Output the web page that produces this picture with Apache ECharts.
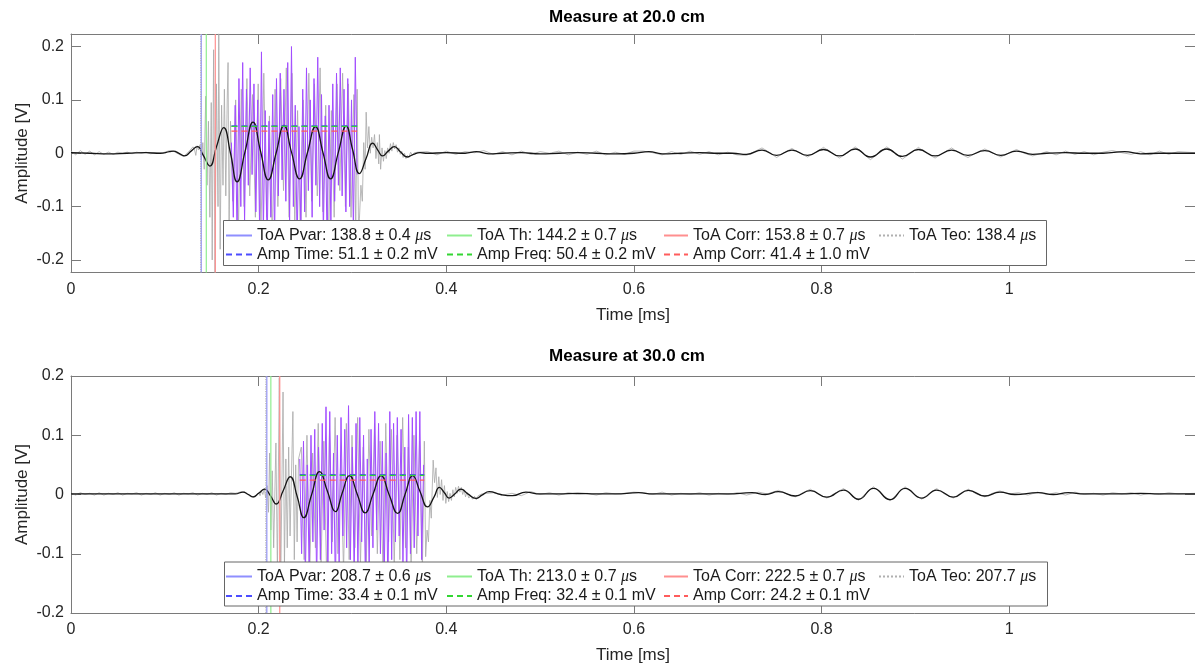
<!DOCTYPE html>
<html lang="en">
<head>
    <meta charset="UTF-8">
    <title>Measure</title>
    <script src="https://cdn.jsdelivr.net/npm/echarts/dist/echarts.min.js"></script>
    <style>
        html, body { margin: 0; padding: 0; background: #fff; }
        #main { width: 1195px; height: 666px; }
    </style>
</head>
<body>
<div id="main"></div>
<script>
// ---------- data ----------
var xTicks = [0, 0.2, 0.4, 0.6, 0.8, 1];
var yTicks = [-0.2, -0.1, 0, 0.1, 0.2];
var xMax = 1.198;
var yLim20 = 0.2235;
var yLim30 = 0.2;

// 20 cm : filtered envelope (black)
var black20T = [0, 0.02, 0.04, 0.06, 0.08, 0.095, 0.105, 0.109, 0.116, 0.121, 0.128, 0.1348, 0.141, 0.148, 0.155, 0.1628,
    0.170, 0.177, 0.1855, 0.194, 0.202, 0.2103, 0.2187, 0.227, 0.235, 0.2436, 0.252, 0.2606, 0.2686, 0.2766, 0.285, 0.2933,
    0.300, 0.3074, 0.3145, 0.3216, 0.327, 0.332, 0.338, 0.3447, 0.351, 0.3585, 0.365, 0.372, 0.38, 0.40, 0.42, 0.432, 0.445,
    0.46, 0.48, 0.50, 0.52, 0.54, 0.56, 0.58, 0.60, 0.616, 0.63, 0.65, 0.67, 0.69, 0.705, 0.72, 0.7365, 0.752, 0.7684, 0.785,
    0.802, 0.819, 0.8358, 0.852, 0.8695, 0.886, 0.9032, 0.921, 0.9386, 0.956, 0.974, 0.991, 1.0078, 1.025, 1.04, 1.06, 1.08,
    1.10, 1.123, 1.14, 1.16, 1.198];
var black20V = [0.001, 0.000, -0.001, 0.000, 0.001, 0.000, 0.003, 0.004, -0.001, -0.005, 0.004, 0.0125, -0.004, -0.024, 0.012, 0.048,
    0.000, -0.0536, 0.003, 0.0585, 0.004, -0.050, 0.001, 0.052, 0.002, -0.048, 0.001, 0.050, 0.001, -0.048, 0.002, 0.051,
    0.008, -0.038, -0.010, 0.0188, 0.006, -0.005, 0.004, 0.0125, 0.003, -0.007, -0.002, 0.001, 0.000, 0.001, 0.000, 0.003, -0.001,
    0.000, 0.001, -0.001, 0.000, 0.001, 0.000, -0.001, 0.000, 0.003, -0.001, 0.000, 0.001, 0.000, 0.000, -0.002, 0.006, -0.004, 0.006, -0.004,
    0.007, -0.005, 0.008, -0.007, 0.008, -0.006, 0.007, -0.005, 0.006, -0.004, 0.005, -0.004, 0.004, -0.002, 0.000, 0.001, 0.000,
    0.000, 0.003, -0.001, 0.000, 0.000];

// 20 cm : raw signal (grey)
var grey20PreStart = 0, grey20PreStep = 0.005;
var grey20PreV = [0.004, -0.003, 0.005, -0.002, 0.004, -0.003, 0.003, -0.002, 0.002, -0.002, 0.002, 0.000, 0.002, -0.001,
    0.002, 0.000, 0.002, -0.001, 0.001, 0.000, 0.002, 0.005, 0.003, -0.002, -0.006, 0.002, 0.012];
var grey20OnsetT = [0.1315, 0.133, 0.1345, 0.136, 0.1375, 0.139, 0.1405, 0.142, 0.1436, 0.145, 0.1465, 0.148, 0.1495, 0.1505,
    0.152, 0.1535, 0.155, 0.1567, 0.1575, 0.159, 0.1605, 0.162, 0.1635, 0.165, 0.1665, 0.1674, 0.1685, 0.170];
var grey20OnsetV = [0.008, -0.004, 0.014, 0.006, 0.016, -0.012, 0.020, -0.030, 0.107, -0.060, 0.060, -0.120, 0.095, -0.200,
    0.194, -0.224, 0.130, -0.100, 0.224, -0.180, 0.090, -0.060, 0.120, -0.080, 0.100, 0.170, -0.145, 0.060];
var grey20MidStart = 0.1725, grey20MidStep = 0.003;
var grey20MidV = [-0.09, 0.10, -0.14, 0.12, -0.10, 0.14, -0.08, 0.11, -0.12, 0.13, -0.15, 0.15, -0.12, 0.07, -0.16, 0.12,
    -0.10, 0.14, -0.07, 0.16, -0.12, 0.15, -0.13, 0.08, -0.16, 0.10, -0.12, 0.15, -0.09, 0.13, -0.08, 0.16, -0.11, 0.09,
    -0.17, 0.08, -0.12, 0.13, -0.07, 0.15, -0.10, 0.13, -0.12, 0.11];
var grey20TailT = [0.3035, 0.305, 0.3065, 0.3074, 0.309, 0.3105, 0.312, 0.3135, 0.3146, 0.316, 0.3175, 0.319, 0.3205, 0.322,
    0.3235, 0.325, 0.3265, 0.328, 0.3287, 0.330, 0.3315, 0.333, 0.3345, 0.336, 0.3375, 0.339, 0.3405, 0.342, 0.3435, 0.345,
    0.3465, 0.348, 0.3495, 0.351, 0.3525, 0.354, 0.3555, 0.357, 0.3585, 0.360, 0.362, 0.364, 0.366, 0.368, 0.370,
    0.38, 0.39, 0.40, 0.41, 0.42, 0.43, 0.44, 0.45, 0.46, 0.47, 0.48, 0.49, 0.50, 0.51, 0.52, 0.53, 0.54, 0.55, 0.56, 0.57,
    0.58, 0.59, 0.60, 0.61, 0.62, 0.63, 0.64, 0.65, 0.66, 0.67, 0.68, 0.69, 0.70, 0.71, 0.72,
    0.7365, 0.745, 0.752, 0.760, 0.7684, 0.777, 0.785, 0.794, 0.802, 0.811, 0.819, 0.827, 0.8358, 0.844, 0.852, 0.861,
    0.8695, 0.878, 0.886, 0.895, 0.9032, 0.912, 0.921, 0.930, 0.9386, 0.947, 0.956, 0.965, 0.974, 0.983, 0.991, 1.000,
    1.0078, 1.016, 1.025,
    1.04, 1.05, 1.06, 1.07, 1.08, 1.09, 1.10, 1.11, 1.12, 1.13, 1.14, 1.15, 1.16, 1.17, 1.18, 1.198];
var grey20TailV = [-0.14, 0.12, -0.15, -0.123, -0.060, -0.090, 0.020, -0.030, 0.077, 0.010, 0.050, 0.000, 0.030, 0.010,
    0.035, -0.010, 0.020, -0.020, 0.035, -0.030, 0.010, -0.015, 0.005, -0.010, 0.010, 0.000, 0.018, 0.004, 0.020, 0.008,
    0.016, 0.002, 0.010, -0.002, 0.004, -0.008, 0.000, -0.010, -0.004, -0.008, 0.002, -0.004, 0.001, -0.002, 0.002,
    0.003, -0.003, 0.004, -0.002, 0.003, 0.001, 0.005, -0.002, 0.003, -0.003, 0.004, -0.002, 0.003, 0.000, 0.004, -0.003,
    0.002, -0.002, 0.004, -0.003, 0.002, -0.002, 0.004, 0.004, 0.001, -0.003, 0.003, -0.002, 0.004, -0.002, 0.003, -0.003,
    0.002, -0.003, -0.004,
    0.010, 0.001, -0.008, 0.001, 0.009, 0.000, -0.007, 0.002, 0.011, 0.001, -0.009, 0.000, 0.012, 0.000, -0.012, 0.000,
    0.012, 0.001, -0.011, 0.000, 0.011, 0.000, -0.009, 0.001, 0.010, 0.000, -0.008, 0.001, 0.008, 0.000, -0.007, 0.001,
    0.007, 0.000, -0.005,
    0.003, -0.003, 0.004, -0.002, 0.003, -0.003, 0.002, 0.005, 0.001, -0.002, 0.003, -0.003, 0.004, -0.002, 0.003, 0.001];

// 20 cm : windowed burst (purple)
var purple20Start = 0.171, purple20Step = 0.002;
var purple20V = [0.02, -0.12, 0.09, -0.16, 0.14, -0.10, 0.17, -0.13, 0.12, -0.06, 0.16, -0.04, 0.13, -0.11, 0.10, -0.14,
    0.19, -0.15, 0.08, -0.18, 0.06, -0.12, 0.11, -0.16, 0.14, -0.08, 0.15, -0.05, 0.12, -0.09, 0.17, -0.13, 0.20, -0.10,
    0.09, -0.17, 0.05, -0.14, 0.12, -0.11, 0.16, -0.07, 0.10, -0.12, 0.14, -0.06, 0.18, -0.10, 0.11, -0.15, 0.07, -0.18,
    0.09, -0.13, 0.13, -0.09, 0.15, -0.06, 0.16, -0.08, 0.12, -0.11, 0.14, -0.10, 0.10, -0.15, 0.18, -0.04];

// 20 cm : estimates (us, mV)
var toa20 = [138.8, 144.2, 153.8, 138.4];
var toaErr20 = [0.4, 0.7, 0.7];
var amp20 = [51.1, 50.4, 41.4];
var ampErr20 = [0.2, 0.2, 1.0];
var ampWin20 = [0.171, 0.305];

// 30 cm : filtered envelope (black)
var black30T = [0, 0.03, 0.06, 0.09, 0.12, 0.15, 0.175, 0.1833, 0.189, 0.194, 0.200, 0.2064, 0.2125, 0.2188, 0.226, 0.2337,
    0.241, 0.2482, 0.2565, 0.2649, 0.2734, 0.2819, 0.289, 0.2968, 0.305, 0.3135, 0.322, 0.3305, 0.339, 0.3482, 0.356,
    0.3642, 0.372, 0.380, 0.387, 0.3926, 0.398, 0.403, 0.409, 0.4156, 0.423, 0.4316, 0.438, 0.4457, 0.458, 0.4706, 0.4848,
    0.50, 0.52, 0.54, 0.56, 0.58, 0.605, 0.62, 0.64, 0.66, 0.68, 0.70, 0.726, 0.74, 0.754, 0.772, 0.788, 0.8056, 0.8234,
    0.8394, 0.8553, 0.873, 0.889, 0.9067, 0.9227, 0.9404, 0.9564, 0.974, 0.990, 1.006, 1.031, 1.047, 1.063, 1.08, 1.10,
    1.12, 1.14, 1.16, 1.198];
var black30V = [0.001, 0.001, 0.001, 0.001, 0.001, 0.001, 0.001, 0.004, 0.000, -0.004, 0.002, 0.009, -0.002, -0.016, 0.006, 0.030,
    -0.003, -0.039, 0.000, 0.0385, 0.005, -0.029, 0.002, 0.032, 0.001, -0.031, 0.001, 0.032, 0.000, -0.032, 0.000,
    0.032, 0.005, -0.021, -0.004, 0.012, 0.003, -0.006, 0.001, 0.009, 0.001, -0.0065, -0.001, 0.005, 0.000, -0.002, 0.004,
    0.001, 0.001, 0.002, 0.001, 0.001, 0.003, 0.001, 0.001, 0.001, 0.001, 0.001, 0.003, 0.000, 0.0047, -0.0025, 0.0064, -0.0045, 0.0075,
    -0.008, 0.0104, -0.0087, 0.0104, -0.006, 0.0075, -0.0045, 0.007, -0.0025, 0.004, 0.000, 0.003, 0.000, 0.003, 0.001, 0.001,
    0.001, 0.002, 0.001, 0.001];

// 30 cm : raw signal (grey)
var grey30PreStart = 0, grey30PreStep = 0.005;
var grey30PreV = [0.002, -0.001, 0.003, 0.000, 0.002, -0.001, 0.003, -0.001, 0.002, 0.000,
    0.003, -0.001, 0.002, 0.001, 0.003, -0.001, 0.002, 0.000, 0.003, -0.001,
    0.002, 0.000, 0.003, -0.001, 0.002, 0.001, 0.003, -0.001, 0.002, 0.000,
    0.003, -0.001, 0.002, 0.000, 0.003, 0.002, 0.004, 0.005, -0.002, -0.005];
var grey30OnsetT = [0.200, 0.2015, 0.203, 0.2045, 0.206, 0.2075, 0.209, 0.2105, 0.2117, 0.213, 0.2145, 0.216, 0.2184, 0.220,
    0.222, 0.2235, 0.226, 0.2275, 0.229, 0.2305, 0.232, 0.2335, 0.2365, 0.238, 0.2395, 0.241, 0.2425];
var grey30OnsetV = [0.003, -0.002, 0.006, 0.000, 0.010, -0.006, 0.015, -0.030, 0.070, -0.060, 0.040, -0.090, 0.087, -0.130,
    0.197, -0.150, 0.173, -0.120, 0.060, -0.090, 0.080, -0.070, 0.140, -0.110, 0.050, -0.080, 0.060];
var grey30MidStart = 0.2455, grey30MidStep = 0.003;
var grey30MidV = [0.08, -0.11, 0.10, -0.13, 0.07, -0.09, 0.12, -0.12, 0.09, -0.14, 0.11, -0.08, 0.13, -0.10, 0.06, -0.13,
    0.12, -0.11, 0.10, -0.09, 0.13, -0.12, 0.08, -0.14, 0.11, -0.07, 0.12, -0.10, 0.09, -0.13, 0.12, -0.08, 0.11, -0.12,
    0.10, -0.11, 0.13, -0.09, 0.08, -0.12, 0.10, -0.10, 0.09, -0.13];
var grey30TailT = [0.3766, 0.378, 0.3795, 0.381, 0.3825, 0.384, 0.386, 0.3875, 0.389, 0.3905, 0.392, 0.3935, 0.395, 0.3965,
    0.398, 0.3995, 0.401, 0.4025, 0.404, 0.4055, 0.407, 0.4085, 0.410, 0.4115, 0.413, 0.4145, 0.416, 0.4175, 0.419, 0.4205,
    0.422, 0.424, 0.426, 0.428, 0.430, 0.432, 0.434, 0.436, 0.438, 0.440,
    0.45, 0.46, 0.47, 0.48, 0.49, 0.50, 0.51, 0.52, 0.53, 0.54, 0.55, 0.56, 0.57, 0.58, 0.59, 0.60, 0.61, 0.62, 0.63, 0.64,
    0.65, 0.66, 0.67, 0.68, 0.69, 0.70, 0.71, 0.72,
    0.733, 0.742, 0.754, 0.763, 0.772, 0.780, 0.788, 0.797, 0.8056, 0.814, 0.8234, 0.831, 0.8394, 0.847, 0.8553, 0.864, 0.873,
    0.881, 0.889, 0.898, 0.9067, 0.915, 0.9227, 0.931, 0.9404, 0.948, 0.9564, 0.965, 0.974, 0.982, 0.990,
    1.00, 1.01, 1.02, 1.03, 1.04, 1.05, 1.06, 1.07, 1.08, 1.09, 1.10, 1.11, 1.12, 1.13, 1.14, 1.15, 1.16, 1.17, 1.18, 1.198];
var grey30TailV = [0.090, -0.105, -0.060, -0.080, -0.010, -0.040, 0.058, 0.020, 0.045, -0.005, 0.030, 0.000, 0.025, -0.010,
    0.015, -0.015, 0.005, -0.012, 0.002, -0.010, 0.008, -0.004, 0.012, 0.002, 0.014, 0.004, 0.012, 0.000, 0.008, -0.004,
    0.004, -0.006, -0.002, -0.008, -0.003, -0.009, -0.002, -0.004, 0.001, -0.002,
    0.003, -0.001, 0.002, -0.002, 0.005, 0.000, 0.003, -0.001, 0.003, 0.000, 0.002, -0.001, 0.003, 0.001, 0.002, 0.004,
    0.003, 0.000, 0.004, -0.001, 0.002, 0.000, 0.003, -0.001, 0.002, 0.000, 0.003, -0.001,
    0.004, 0.001, 0.007, 0.001, -0.004, 0.003, 0.009, 0.000, -0.006, 0.002, 0.010, 0.000, -0.010, 0.002, 0.013, 0.001, -0.011,
    0.002, 0.013, 0.001, -0.008, 0.002, 0.010, 0.001, -0.006, 0.002, 0.009, 0.001, -0.004, 0.002, 0.006,
    0.001, 0.003, -0.001, 0.004, 0.000, 0.003, -0.001, 0.004, 0.000, 0.002, -0.001, 0.003, 0.001, 0.003, -0.001, 0.002,
    0.000, 0.003, 0.001, 0.002];

// 30 cm : windowed burst (purple)
var purple30Start = 0.2438, purple30Step = 0.002;
var purple30V = [0.06, -0.10, 0.09, -0.14, 0.05, -0.12, 0.10, -0.08, 0.11, -0.15, 0.08, -0.11, 0.12, -0.06, 0.148, -0.13,
    0.14, -0.10, 0.07, -0.16, 0.10, -0.12, 0.13, -0.07, 0.11, -0.09, 0.15, -0.11, 0.08, -0.14, 0.12, -0.13, 0.13, -0.08,
    0.10, -0.15, 0.06, -0.12, 0.11, -0.09, 0.14, -0.06, 0.12, -0.10, 0.09, -0.14, 0.07, -0.16, 0.14, -0.11, 0.12, -0.08,
    0.13, -0.07, 0.11, -0.12, 0.08, -0.15, 0.135, -0.10, 0.13, -0.09, 0.14, -0.07, 0.14, -0.11, 0.05];

// 30 cm : estimates (us, mV)
var toa30 = [208.7, 213.0, 222.5, 207.7];
var toaErr30 = [0.6, 0.7, 0.7];
var amp30 = [33.4, 32.4, 24.2];
var ampErr30 = [0.1, 0.1, 0.1];
var ampWin30 = [0.2438, 0.3766];

// ---------- helpers ----------
function zip(ts, vs) {
    var out = [];
    var n = Math.min(ts.length, vs.length);
    for (var i = 0; i < n; i++) out.push([ts[i], vs[i]]);
    return out;
}
// samples on a fixed time base
function sampled(start, step, vs) {
    return vs.map(function (v, i) { return [+(start + i * step).toFixed(5), v]; });
}

var FONT = '"Liberation Sans", Arial, Helvetica, sans-serif';
var TXT = '#262626';
var AXC = '#7a7a7a';
var toaNames = ['ToA Pvar', 'ToA Th', 'ToA Corr', 'ToA Teo'];
var ampNames = ['Amp Time', 'Amp Freq', 'Amp Corr'];
var toaStyle = [
    {color: '#8f8fff', type: 'solid'},
    {color: '#8fee8f', type: 'solid'},
    {color: '#ff8f8f', type: 'solid'},
    {color: '#b0b0b0', type: 'dotted'}
];
var ampStyle = ['#4d4dff', '#33d633', '#ff5c5c'];

var plots = [
    {
        title: 'Measure at 20.0 cm', yLim: yLim20,
        grid: {left: 71, top: 34, width: 1126, height: 238.5},
        grey: sampled(grey20PreStart, grey20PreStep, grey20PreV)
            .concat(zip(grey20OnsetT, grey20OnsetV))
            .concat(sampled(grey20MidStart, grey20MidStep, grey20MidV))
            .concat(zip(grey20TailT, grey20TailV)),
        purple: sampled(purple20Start, purple20Step, purple20V),
        black: zip(black20T, black20V),
        toa: toa20, toaErr: toaErr20, amp: amp20, ampErr: ampErr20, win: ampWin20,
        legendRows: [227.5, 246.5], box: [223.5, 220.5, 823, 45], titleTop: 9
    },
    {
        title: 'Measure at 30.0 cm', yLim: yLim30,
        grid: {left: 71, top: 376, width: 1126, height: 237},
        grey: sampled(grey30PreStart, grey30PreStep, grey30PreV)
            .concat(zip(grey30OnsetT, grey30OnsetV))
            .concat(sampled(grey30MidStart, grey30MidStep, grey30MidV))
            .concat(zip(grey30TailT, grey30TailV)),
        purple: sampled(purple30Start, purple30Step, purple30V),
        black: zip(black30T, black30V),
        toa: toa30, toaErr: toaErr30, amp: amp30, ampErr: ampErr30, win: ampWin30,
        legendRows: [568.5, 588], box: [224.5, 562, 823, 44], titleTop: 348
    }
];

var colLeft = [225, 446, 663, 878];
var colIcon = [26, 25, 24, 25];

var option = {
    animation: false,
    backgroundColor: '#fff',
    textStyle: {fontFamily: FONT},
    title: [], grid: [], xAxis: [], yAxis: [], series: [], legend: [],
    graphic: {elements: []}
};

plots.forEach(function (p, k) {
    option.title.push({
        text: p.title, left: 627, top: p.titleTop, textAlign: 'center', padding: 0,
        textStyle: {fontSize: 17, fontWeight: 'bold', color: '#000', fontFamily: FONT}
    });
    option.grid.push({left: p.grid.left, top: p.grid.top, width: p.grid.width, height: p.grid.height});

    var line = {onZero: false, lineStyle: {color: AXC, width: 1}};
    var tick = {inside: true, length: 10, lineStyle: {color: AXC}};
    option.xAxis[k] = {
        gridIndex: k, type: 'value', min: 0, max: xMax, position: 'bottom',
        axisLine: line, splitLine: {show: false},
        axisTick: Object.assign({customValues: xTicks}, tick),
        axisLabel: {customValues: xTicks, fontSize: 16, color: TXT, margin: 9, fontFamily: FONT,
            formatter: function (v) { return String(v); }},
        name: 'Time [ms]', nameLocation: 'middle', nameGap: 34, nameMoveOverlap: false,
        nameTextStyle: {fontSize: 17, color: TXT, fontFamily: FONT}
    };
    option.xAxis[k + 2] = {
        gridIndex: k, type: 'value', min: 0, max: xMax, position: 'top',
        axisLine: line, splitLine: {show: false},
        axisTick: Object.assign({customValues: xTicks}, tick),
        axisLabel: {show: false}
    };
    option.yAxis[k] = {
        gridIndex: k, type: 'value', min: -p.yLim, max: p.yLim, position: 'left',
        axisLine: line, splitLine: {show: false},
        axisTick: Object.assign({customValues: yTicks}, tick),
        axisLabel: {customValues: yTicks, fontSize: 16, color: TXT, margin: 7, fontFamily: FONT,
            formatter: function (v) { return String(+v.toFixed(2)); }},
        name: 'Amplitude [V]', nameLocation: 'middle', nameGap: 40, nameRotate: 90, nameMoveOverlap: false,
        nameTextStyle: {fontSize: 17, color: TXT, fontFamily: FONT}
    };
    option.yAxis[k + 2] = {
        gridIndex: k, type: 'value', min: -p.yLim, max: p.yLim, position: 'right',
        axisLine: line, splitLine: {show: false},
        axisTick: Object.assign({customValues: yTicks}, tick),
        axisLabel: {show: false}
    };

    var base = {type: 'line', xAxisIndex: k, yAxisIndex: k, symbol: 'none', showSymbol: false, clip: true};
    option.series.push(Object.assign({}, base, {
        name: 'raw' + k, data: p.grey, z: 1,
        lineStyle: {color: '#a8a8a8', width: 0.8}, itemStyle: {color: '#a8a8a8'}
    }));
    option.series.push(Object.assign({}, base, {
        name: 'win' + k, data: p.purple, z: 2,
        lineStyle: {color: '#a24dff', width: 1}, itemStyle: {color: '#a24dff'}
    }));
    option.series.push(Object.assign({}, base, {
        name: 'env' + k, data: p.black, z: 3, smooth: 0.5,
        lineStyle: {color: '#151515', width: 1.3}, itemStyle: {color: '#151515'}
    }));

    var names = [];
    p.toa.forEach(function (t, i) {
        var label = toaNames[i] + ': ' + t.toFixed(1) +
            (i < 3 ? ' ± ' + p.toaErr[i].toFixed(1) : '') + ' μs';
        names.push(label);
        option.series.push(Object.assign({}, base, {
            name: label, z: 4,
            data: [[t / 1000, -p.yLim], [t / 1000, p.yLim]],
            lineStyle: {color: toaStyle[i].color, width: 1.2, type: toaStyle[i].type},
            itemStyle: {color: toaStyle[i].color}
        }));
    });
    p.amp.forEach(function (a, i) {
        var label = ampNames[i] + ': ' + a.toFixed(1) + ' ± ' + p.ampErr[i].toFixed(1) + ' mV';
        names.push(label);
        option.series.push(Object.assign({}, base, {
            name: label, z: 5,
            data: [[p.win[0], a / 1000], [p.win[1], a / 1000]],
            lineStyle: {color: ampStyle[i], width: 1.3, type: [6, 4]},
            itemStyle: {color: ampStyle[i]}
        }));
    });

    // legend box
    option.graphic.elements.push({
        type: 'rect', z: 9,
        shape: {x: p.box[0], y: p.box[1], width: p.box[2], height: p.box[3]},
        style: {fill: '#fff', stroke: '#666', lineWidth: 1}
    });
    names.forEach(function (nm, i) {
        var row = i < 4 ? 0 : 1;
        var col = i < 4 ? i : i - 4;
        option.legend.push({
            data: [nm], left: colLeft[col], top: p.legendRows[row],
            padding: 0, itemGap: 0, itemWidth: colIcon[col], itemHeight: 14,
            selectedMode: false, z: 10,
            itemStyle: {opacity: 0},
            formatter: function (name) { return name.replace('μ', '{mu|μ}'); },
            textStyle: {
                fontSize: 16, color: '#1a1a1a', fontFamily: FONT,
                rich: {mu: {fontSize: 16, fontStyle: 'italic', color: '#1a1a1a', fontFamily: '"Liberation Serif", serif'}}
            }
        });
    });
});

var chart = echarts.init(document.getElementById('main'));
chart.setOption(option);
</script>
</body>
</html>
